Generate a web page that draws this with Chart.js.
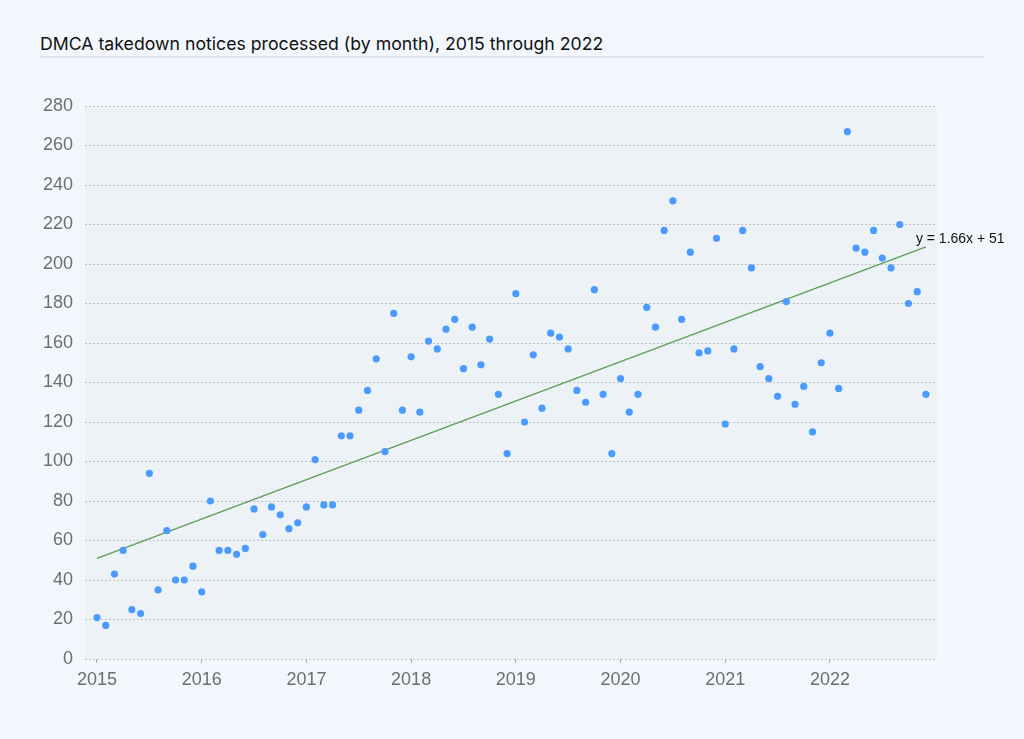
<!DOCTYPE html>
<html>
<head>
<meta charset="utf-8">
<script src="https://cdn.jsdelivr.net/npm/chart.js@4"></script>
<style>
  html, body { margin: 0; padding: 0; background: #f3f7fd; }
  #title {
    position: absolute; left: 40px; top: 34px; width: 944px;
    font-family: "Inter", "Liberation Sans", sans-serif; font-size: 17.7px; line-height: 20px;
    color: #111; padding-bottom: 2px; border-bottom: 2px solid #dde3ea;
  }
  #c { position: absolute; left: 0; top: 0; }
</style>
</head>
<body>
<div id="title">DMCA takedown notices processed (by month), 2015 through 2022</div>
<canvas id="c" width="1024" height="739"></canvas>
<script>
// ---- data (monthly notices, Jan..Dec for each year) ----
const years = ['2015', '2016', '2017', '2018', '2019', '2020', '2021', '2022'];
const notices2015 = [21, 17, 43, 55, 25, 23, 94, 35, 65, 40, 40, 47];
const notices2016 = [34, 80, 55, 55, 53, 56, 76, 63, 77, 73, 66, 69];
const notices2017 = [77, 101, 78, 78, 113, 113, 126, 136, 152, 105, 175, 126];
const notices2018 = [153, 125, 161, 157, 167, 172, 147, 168, 149, 162, 134, 104];
const notices2019 = [185, 120, 154, 127, 165, 163, 157, 136, 130, 187, 134, 104];
const notices2020 = [142, 125, 134, 178, 168, 217, 232, 172, 206, 155, 156, 213];
const notices2021 = [119, 157, 217, 198, 148, 142, 133, 181, 129, 138, 115, 150];
const notices2022 = [165, 137, 267, 208, 206, 217, 203, 198, 220, 180, 186, 134];
const yTicks = [0, 20, 40, 60, 80, 100, 120, 140, 160, 180, 200, 220, 240, 260, 280];
// trend line shown in the chart: y = 1.66x + 51 (x = month index)
const trendSlope = 1.66;
const trendIntercept = 51;
const trendLabel = 'y = 1.66x + 51';

const allMonths = [].concat(notices2015, notices2016, notices2017, notices2018,
                            notices2019, notices2020, notices2021, notices2022);
const points = allMonths.map((v, i) => ({ x: i, y: v }));
const lastIdx = allMonths.length - 1;
const trendPoints = [
  { x: 0, y: trendIntercept },
  { x: lastIdx, y: trendIntercept + trendSlope * lastIdx }
];

const bgPlugin = {
  id: 'plotBg',
  beforeDraw(chart) {
    const { ctx, chartArea: a } = chart;
    ctx.save();
    ctx.fillStyle = '#edf2f7';
    ctx.fillRect(a.left, a.top, a.right - a.left, a.bottom - a.top);
    ctx.restore();
  }
};

const trendLabelPlugin = {
  id: 'trendLabel',
  afterDatasetsDraw(chart) {
    const meta = chart.getDatasetMeta(1);
    const end = meta.data[meta.data.length - 1];
    const ctx = chart.ctx;
    ctx.save();
    ctx.font = '14px "Liberation Sans", Arial, sans-serif';
    ctx.fillStyle = '#111';
    ctx.textAlign = 'left';
    ctx.textBaseline = 'alphabetic';
    ctx.fillText(trendLabel, end.x - 10, end.y - 4);
    ctx.restore();
  }
};

new Chart(document.getElementById('c'), {
  type: 'scatter',
  data: {
    datasets: [
      {
        label: 'Notices',
        data: points,
        backgroundColor: '#4b9bff',
        borderColor: '#4b9bff',
        pointRadius: 3.6,
        pointBorderWidth: 0
      },
      {
        type: 'line',
        label: 'Trend',
        data: trendPoints,
        borderColor: '#5f9c57',
        borderWidth: 1.3,
        pointRadius: 0,
        fill: false
      }
    ]
  },
  options: {
    responsive: false,
    animation: false,
    layout: { padding: { top: 106, right: 87, left: 0, bottom: 40 } },
    plugins: { legend: { display: false }, tooltip: { enabled: false } },
    scales: {
      x: {
        type: 'linear',
        min: -1.375,
        max: 96.27,
        afterFit(s) { s.height = 40; },
        afterBuildTicks(s) { s.ticks = years.map((y, i) => ({ value: i * 12 })); },
        border: { display: false },
        grid: { drawOnChartArea: false, drawTicks: true, tickLength: 4, color: '#a9adb3' },
        ticks: {
          padding: 6,
          color: '#6e6e6e',
          font: { family: '"Liberation Sans", Arial, sans-serif', size: 18 },
          callback: (v) => years[Math.round(v / 12)]
        }
      },
      y: {
        min: 0,
        max: 280,
        afterFit(s) { s.width = 85; },
        afterBuildTicks(s) { s.ticks = yTicks.map(v => ({ value: v })); },
        border: { display: false, dash: [2, 2] },
        grid: { drawTicks: false, color: '#bcc1c7', lineWidth: 1 },
        ticks: {
          padding: 12,
          color: '#6e6e6e',
          font: { family: '"Liberation Sans", Arial, sans-serif', size: 18 }
        }
      }
    }
  },
  plugins: [bgPlugin, trendLabelPlugin]
});
</script>
</body>
</html>
